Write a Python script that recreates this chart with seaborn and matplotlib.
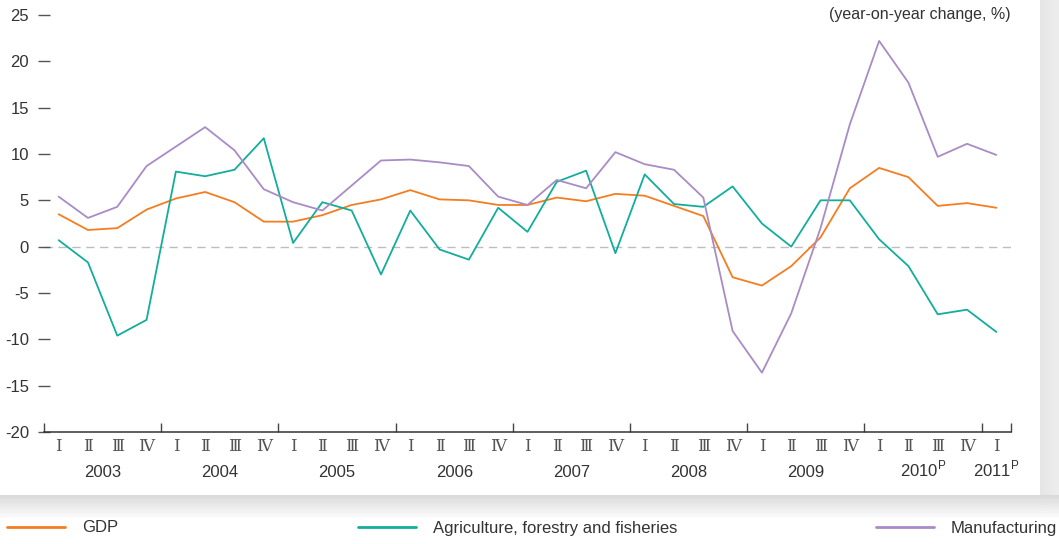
"""Quarterly GDP, agriculture and manufacturing growth, 2003-2011 (yoy %)."""

import matplotlib
matplotlib.use("Agg")
import matplotlib.pyplot as plt
import matplotlib.transforms as mtrans
from matplotlib.lines import Line2D
import numpy as np
import pandas as pd
import seaborn as sns

years = ["2003", "2004", "2005", "2006", "2007", "2008", "2009",
         r"2010$^{\mathregular{P}}$", r"2011$^{\mathregular{P}}$"]
quarters = ["Ⅰ", "Ⅱ", "Ⅲ", "Ⅳ"]
n_quarters = [4, 4, 4, 4, 4, 4, 4, 4, 1]

gdp = [3.5, 1.8, 2.0, 4.0, 5.2, 5.9, 4.8, 2.7, 2.7, 3.4, 4.5, 5.1, 6.1, 5.1,
       5.0, 4.5, 4.5, 5.3, 4.9, 5.7, 5.5, 4.4, 3.3, -3.3, -4.2, -2.1, 1.0,
       6.3, 8.5, 7.5, 4.4, 4.7, 4.2]
agri = [0.7, -1.7, -9.6, -7.9, 8.1, 7.6, 8.3, 11.7, 0.4, 4.8, 3.9, -3.0, 3.9,
        -0.3, -1.4, 4.2, 1.6, 7.0, 8.2, -0.7, 7.8, 4.6, 4.3, 6.5, 2.5, 0.0,
        5.0, 5.0, 0.8, -2.1, -7.3, -6.8, -9.2]
manu = [5.4, 3.1, 4.3, 8.7, 10.8, 12.9, 10.4, 6.2, 4.8, 3.9, 6.6, 9.3, 9.4,
        9.1, 8.7, 5.4, 4.5, 7.2, 6.3, 10.2, 8.9, 8.3, 5.3, -9.1, -13.6, -7.2,
        2.0, 13.2, 22.2, 17.7, 9.7, 11.1, 9.9]

series_names = ["GDP", "Agriculture, forestry and fisheries", "Manufacturing"]
COLOURS = {"GDP": "#f47d20",
           "Agriculture, forestry and fisheries": "#12ad9b",
           "Manufacturing": "#a98bc6"}

sns.set_theme(style="white")
FONT = ["Liberation Sans Narrow", "Liberation Sans", "DejaVu Sans"]
plt.rcParams["font.family"] = FONT
plt.rcParams["axes.unicode_minus"] = False
TXT = "#333333"
FS = 12
PX = 0.72  # points per pixel at 100 dpi

n = len(gdp)
qidx = np.arange(n)
qlabels = [quarters[i % 4] for i in range(n)]
df = pd.DataFrame({
    "q": np.tile(qidx, 3),
    "value": gdp + agri + manu,
    "series": np.repeat(series_names, n),
})

W, H = 1059, 544
fig = plt.figure(figsize=(W / 100, H / 100), dpi=100)

# white panel with a soft grey drop shadow right and below
bg = np.ones((H, W))
yy, xx = np.mgrid[0:H, 0:W]
panel_r, panel_b = 1040, 495
right = (xx >= panel_r) & (yy < panel_b + 10)
bg[right] = 0.895 + 0.035 * (xx[right] - panel_r) / (W - panel_r)
below = yy >= panel_b
shade = 0.85 + 0.15 * np.clip((yy - panel_b) / 24.0, 0, 1)
bg[below] = np.maximum(np.minimum(bg[below], shade[below]), shade[below] * (yy[below] > panel_b + 10))
bax = fig.add_axes([0, 0, 1, 1], zorder=-5)
bax.imshow(bg, cmap="gray", vmin=0, vmax=1, aspect="auto", interpolation="bilinear")
bax.axis("off")

ax = fig.add_axes([44 / W, (H - 432) / H, 967 / W, 417 / H])
ax.set_facecolor("none")
sns.lineplot(data=df, x="q", y="value", hue="series", hue_order=series_names,
             palette=COLOURS, linewidth=1.3, legend=False, ax=ax)

ax.axhline(0, color="#bdbdbd", lw=1.0, ls=(0, (6, 4)), zorder=0)
ax.set_xlim(-0.5, n - 0.5)
ax.set_ylim(-20, 25)
ax.set_yticks(np.arange(-20, 26, 5))
ax.tick_params(axis="y", left=True, direction="inout", length=12 * PX, width=1.0,
               color="#555555", labelsize=FS, labelcolor=TXT, pad=9 * PX)

bounds = np.concatenate([[-0.5], np.cumsum(n_quarters) - 0.5])
ax.set_xticks(bounds)
ax.set_xticklabels([])
ax.tick_params(axis="x", bottom=True, direction="in", length=9 * PX, width=1.0,
               color="#444444")
ax.set_xticks(qidx, minor=True)
ax.set_xticklabels(qlabels, minor=True, family=["Liberation Serif", "DejaVu Serif"],
                   fontsize=12, color="#555555")
ax.tick_params(axis="x", which="minor", bottom=True, length=0, pad=5)

for s in ["left", "right", "top"]:
    ax.spines[s].set_visible(False)
ax.spines["bottom"].set_color("#333333")
ax.spines["bottom"].set_linewidth(1.1)
ax.set_xlabel("")
ax.set_ylabel("")

trans = mtrans.blended_transform_factory(ax.transData, ax.transAxes)
for i, y in enumerate(years):
    centre = (bounds[i] + bounds[i + 1]) / 2
    ax.text(centre, -0.1075, y, transform=trans, ha="center", va="baseline",
            fontsize=FS, color=TXT, family=FONT)

ax.text(1.0, 1.0, "(year-on-year change, %)", transform=ax.transAxes,
        ha="right", va="center", fontsize=11.5, color=TXT)

# legend: three separate entries along the bottom
legend_x = [0.0066, 0.338, 0.827]
for name, lx in zip(series_names, legend_x):
    h = Line2D([], [], color=COLOURS[name], lw=2.0)
    fig.legend([h], [name], loc="center left", bbox_to_anchor=(lx, 1 - 528 / H),
               frameon=False, fontsize=FS, handlelength=3.5, handletextpad=1.0,
               labelcolor=TXT, borderaxespad=0, borderpad=0)

fig.savefig("out.png", dpi=100)
